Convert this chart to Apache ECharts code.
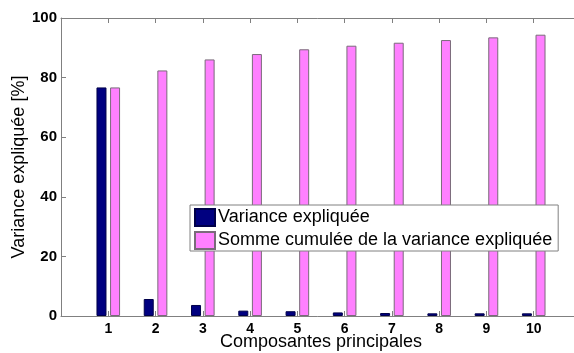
<!DOCTYPE html>
<html>
<head>
<meta charset="utf-8">
<style>
  html, body { margin: 0; padding: 0; background: #fff; }
  #chart { width: 574px; height: 353px; }
</style>
<script src="https://cdn.jsdelivr.net/npm/echarts@6/dist/echarts.min.js"></script>
</head>
<body>
<div id="chart"></div>
<script>
// Principal components 1..10
const components = [1, 2, 3, 4, 5, 6, 7, 8, 9, 10];
// Explained variance per component [%]
const varianceExpliquee = [76.7, 5.7, 3.7, 1.8, 1.6, 1.2, 1.0, 0.9, 0.9, 0.9];
// Cumulative explained variance [%]
const sommeCumulee = [76.7, 82.4, 86.1, 87.9, 89.5, 90.7, 91.7, 92.6, 93.5, 94.4];
const yTicks = [0, 20, 40, 60, 80, 100];

const FONT = '"Liberation Sans", Arial, Helvetica, sans-serif';
const AXIS_GREY = '#808080';

const chart = echarts.init(document.getElementById('chart'), null, { renderer: 'canvas' });

const pairs = (vals) => components.map((c, i) => [c, vals[i]]);

chart.setOption({
  animation: false,
  backgroundColor: '#ffffff',
  textStyle: { fontFamily: FONT },
  grid: { left: 61, right: -7, top: 18, bottom: 37, containLabel: false, outerBoundsMode: 'none' },
  legend: {
    orient: 'vertical',
    left: 190,
    top: 205,
    itemWidth: 20,
    itemHeight: 17,
    itemGap: 4,
    padding: [3, 6, 1, 4],
    backgroundColor: '#ffffff',
    borderColor: AXIS_GREY,
    borderWidth: 1,
    borderRadius: 0,
    icon: 'rect',
    textStyle: { fontFamily: FONT, fontSize: 18, color: '#000', padding: [0, 0, 0, -2] },
    data: ['Variance expliquée', 'Somme cumulée de la variance expliquée']
  },
  xAxis: [
    {
      type: 'value',
      min: 0, max: 11, interval: 1,
      name: 'Composantes principales',
      nameLocation: 'middle',
      nameGap: 17,
      nameMoveOverlap: false,
      nameTextStyle: { fontFamily: FONT, fontSize: 18, color: '#000' },
      axisLine: { show: true, lineStyle: { color: AXIS_GREY, width: 1 } },
      axisTick: { show: true, inside: true, length: 5, lineStyle: { color: AXIS_GREY } },
      axisLabel: {
        fontFamily: FONT, fontSize: 14, fontWeight: 'bold', color: '#000', margin: 6,
        formatter: (v) => (v >= 1 && v <= 10 ? String(v) : '')
      },
      splitLine: { show: false }
    },
    {
      type: 'value', position: 'top',
      min: 0, max: 11, interval: 1,
      axisLine: { show: true, lineStyle: { color: AXIS_GREY, width: 1 } },
      axisTick: { show: true, inside: true, length: 5, lineStyle: { color: AXIS_GREY } },
      axisLabel: { show: false },
      splitLine: { show: false }
    }
  ],
  yAxis: [
    {
      type: 'value',
      min: 0, max: 100, interval: 20,
      name: 'Variance expliquée [%]',
      nameLocation: 'middle',
      nameRotate: 90,
      nameGap: 33,
      nameMoveOverlap: false,
      nameTextStyle: { fontFamily: FONT, fontSize: 18, color: '#000' },
      axisLine: { show: true, lineStyle: { color: AXIS_GREY, width: 1 } },
      axisTick: { show: true, inside: true, length: 5, lineStyle: { color: AXIS_GREY } },
      axisLabel: {
        fontFamily: FONT, fontSize: 15, fontWeight: 'bold', color: '#000', margin: 4,
        formatter: (v) => (yTicks.includes(v) ? String(v) : '')
      },
      splitLine: { show: false }
    }
  ],
  series: [
    {
      name: 'Variance expliquée',
      type: 'bar',
      data: pairs(varianceExpliquee),
      barWidth: 10,
      barGap: '36%',
      itemStyle: { color: '#000080', borderColor: '#00004a', borderWidth: 1 },
      z: 2
    },
    {
      name: 'Somme cumulée de la variance expliquée',
      type: 'bar',
      data: pairs(sommeCumulee),
      barWidth: 10,
      barGap: '36%',
      itemStyle: { color: '#ff80ff', borderColor: '#7a6a7a', borderWidth: 1 },
      z: 2
    }
  ]
});
</script>
</body>
</html>
